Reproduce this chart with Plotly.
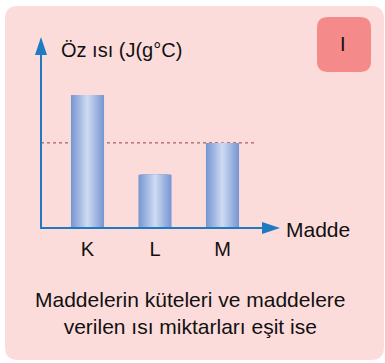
import plotly.graph_objects as go

# Data
categories = ["K", "L", "M"]
ozisi = [2.5, 1.0, 1.6]          # specific heat (relative units)
y_title = "Öz ısı (J(g°C)"
x_title = "Madde"
caption = "Maddelerin küteleri ve maddelere<br>verilen ısı miktarları eşit ise"
badge = "I"

W, H = 385, 363
L, R, T, B = 41, 278, 38, 228          # plot area in pixels
PW, PH = R - L, B - T

def px(x):
    return (x - L) / PW

def py(y):
    return (B - y) / PH

def rrect(x0, y0, x1, y1, r):
    X0, X1 = px(x0), px(x1)
    Y0, Y1 = py(y0), py(y1)
    rx, ry = r / PW, r / PH
    return (f"M{X0+rx},{Y0} L{X1-rx},{Y0} Q{X1},{Y0} {X1},{Y0-ry} "
            f"L{X1},{Y1+ry} Q{X1},{Y1} {X1-rx},{Y1} L{X0+rx},{Y1} "
            f"Q{X0},{Y1} {X0},{Y1+ry} L{X0},{Y0-ry} Q{X0},{Y0} {X0+rx},{Y0} Z")

def mix(c1, c2, t):
    return "#%02x%02x%02x" % tuple(round(a + (b - a) * t) for a, b in zip(c1, c2))

edge = (0x78, 0x97, 0xD2)
center = (0xCC, 0xD9, 0xF1)

fig = go.Figure()

# cylindrical shading: stacked overlaid bars, narrowing toward the centre
N = 18
bar_w = 0.49
for k in range(N):
    t = k / (N - 1)
    fig.add_trace(go.Bar(
        x=[0, 1, 2], y=ozisi, width=bar_w * (1 - k / N),
        marker=dict(color=mix(edge, center, t), line=dict(width=0)),
        hoverinfo="skip", showlegend=False,
    ))

blue = "#1f7bc1"
shapes = [
    # card
    dict(type="path", path=rrect(5, 6, 384, 360, 13), xref="paper", yref="paper",
         fillcolor="#fcdcdb", line=dict(width=0), layer="below"),
    # badge
    dict(type="path", path=rrect(317, 17, 371, 72, 11), xref="paper", yref="paper",
         fillcolor="#f48b8a", line=dict(width=0), layer="below"),
    # reference line at M's level
    dict(type="line", xref="paper", yref="y", x0=0, x1=px(257),
         y0=ozisi[2], y1=ozisi[2], line=dict(color="#8e4048", width=1, dash="dot"),
         layer="below"),
    # axes
    dict(type="line", xref="paper", yref="paper", x0=px(41), x1=px(41),
         y0=py(228), y1=py(52), line=dict(color=blue, width=2)),
    dict(type="line", xref="paper", yref="paper", x0=px(40), x1=px(265),
         y0=py(228), y1=py(228), line=dict(color=blue, width=2)),
    dict(type="path", xref="paper", yref="paper",
         path=f"M{px(41)},{py(37)} L{px(47)},{py(55)} L{px(35)},{py(55)} Z",
         fillcolor=blue, line=dict(width=0)),
    dict(type="path", xref="paper", yref="paper",
         path=f"M{px(280)},{py(228)} L{px(262)},{py(222)} L{px(262)},{py(234)} Z",
         fillcolor=blue, line=dict(width=0)),
]

font = "Liberation Sans, Arial, sans-serif"
annotations = [
    dict(text=y_title, x=px(59), y=py(50), xanchor="left", yanchor="middle", size=20),
    dict(text=x_title, x=px(284), y=py(229), xanchor="left", yanchor="middle", size=21),
    dict(text=badge, x=px(343), y=py(44), xanchor="center", yanchor="middle", size=20),
    dict(text=caption, x=px(190), y=py(313), xanchor="center", yanchor="middle", size=21),
]
for a in annotations:
    size = a.pop("size")
    a.update(xref="paper", yref="paper", showarrow=False,
             font=dict(family=font, size=size, color="#111111"))

fig.update_layout(
    width=W, height=H, barmode="overlay",
    margin=dict(l=L, r=W - R, t=T, b=H - B, pad=0),
    paper_bgcolor="white", plot_bgcolor="rgba(0,0,0,0)",
    shapes=shapes, annotations=annotations,
    xaxis=dict(range=[-(87.5 - L) / 67.5, (R - 87.5) / 67.5], tickvals=[0, 1, 2],
               ticktext=categories, showgrid=False, zeroline=False, showline=False,
               ticks="", ticklabelstandoff=7,
               tickfont=dict(family=font, size=20, color="#111111")),
    yaxis=dict(range=[0, PH / 53.2], showgrid=False, zeroline=False,
               showline=False, showticklabels=False, ticks=""),
    showlegend=False,
)

fig.write_html("out.html")
